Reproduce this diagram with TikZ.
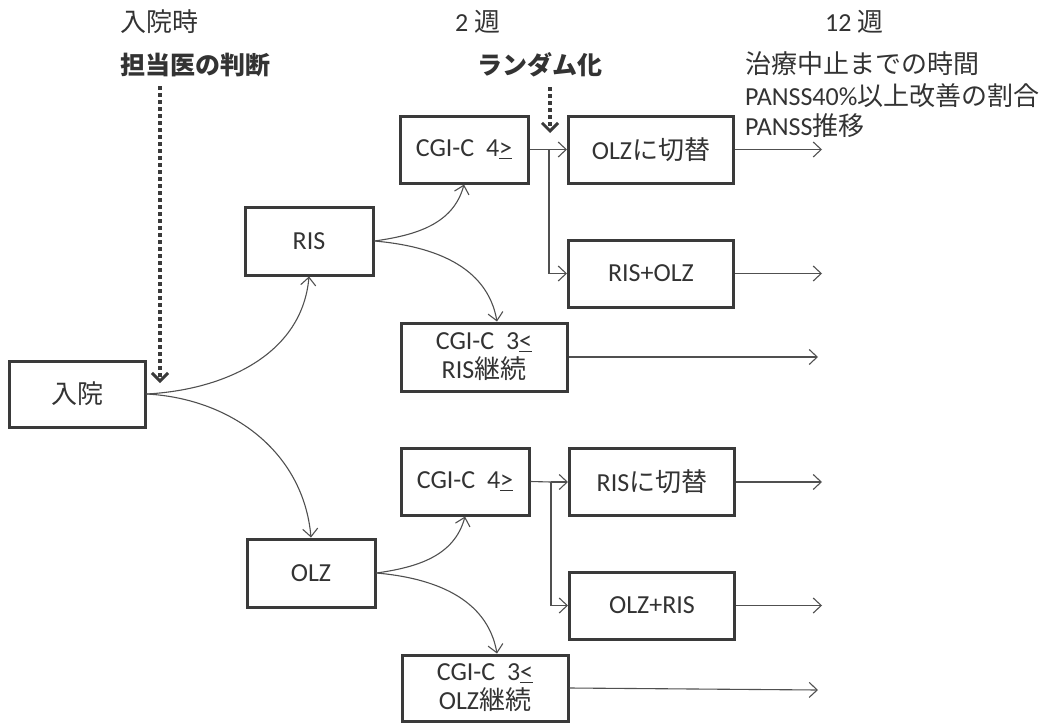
\documentclass[tikz,border=0pt]{standalone}
\usepackage{fontspec}
\setmainfont{Carlito}
\newfontfamily\jp{Noto Sans CJK JP}
\usetikzlibrary{arrows.meta}
\definecolor{ink}{HTML}{333333}
\definecolor{edge}{HTML}{3A3A3A}
\definecolor{wire}{HTML}{505050}
\tikzset{
  box/.style={draw=edge, line width=3pt, minimum width=#1, inner sep=0pt, text=ink, align=center, font=\fontsize{26}{29}\selectfont},
  box/.default=128pt,
  conn/.style={draw=wire, line width=1.1pt, -{Straight Barb[length=8pt,width=15pt,line width=1.1pt]}},
  plain/.style={draw=wire, line width=1.1pt},
  dots/.style={draw=edge, line width=4pt, dash pattern=on 4pt off 3pt, -{Straight Barb[length=8pt,width=16pt,line width=3pt]}},
  lbl/.style={anchor=west, inner sep=0pt, text=ink, font=\fontsize{26}{30}\selectfont},
  blbl/.style={lbl, font=\fontsize{25}{30}\selectfont\jp\bfseries},
}
\begin{document}
\begin{tikzpicture}[x=1pt,y=-1pt]
\useasboundingbox (0,0) rectangle (1055,723);
% header labels
\node[lbl] (t1) at (120,22) {\jp 入院時};
\node[blbl] (t2) at (120,65) {担当医の判断};
\node[lbl] (t3) at (455,22) {2 {\jp 週}};
\node[blbl] (t4) at (477,65) {ランダム化};
\node[lbl] (t5) at (825,22) {12 {\jp 週}};
\node[lbl] (t6) at (745,64) {\jp 治療中止までの時間};
\node[lbl] (t7) at (745,96) {PANSS40\%{\jp 以上改善の割合}};
\node[lbl] (t8) at (745,126) {PANSS{\jp 推移}};
% boxes
\node[box=136pt, minimum height=66pt] (nyuin) at (77,394) {\jp 入院};
\node[box, minimum height=68pt] (ris) at (309,241) {RIS};
\node[box, minimum height=68pt] (olz) at (311,573) {OLZ};
\node[box, minimum height=67pt] (c4a) at (464,149.5) {CGI-C\ \ 4\underline{>}};
\node[box=166pt, minimum height=68pt] (c3a) at (484,357) {CGI-C\ \ 3\underline{<}\\RIS{\jp 継続}};
\node[box=165pt, minimum height=67pt] (swa) at (651,149.5) {OLZ{\jp に切替}};
\node[box=165pt, minimum height=67pt] (roa) at (651,273.5) {RIS+OLZ};
\node[box, minimum height=67pt] (c4b) at (465,481.5) {CGI-C\ \ 4\underline{>}};
\node[box=166pt, minimum height=66pt] (c3b) at (485,688) {CGI-C\ \ 3\underline{<}\\OLZ{\jp 継続}};
\node[box=165pt, minimum height=67pt] (swb) at (652,482) {RIS{\jp に切替}};
\node[box=165pt, minimum height=67pt] (rob) at (652,605.5) {OLZ+RIS};
% junctions and free ends
\coordinate (j1) at (549,149.5);
\coordinate (j2) at (551,482);
\coordinate (e1) at (822,149.5);
\coordinate (e2) at (822,273.5);
\coordinate (e3) at (818,357);
\coordinate (e4) at (822,482);
\coordinate (e5) at (822,605.5);
\coordinate (e6) at (818,690);
\coordinate (d1s) at (160,86);
\coordinate (d1e) at (160,383);
\coordinate (d2s) at (550,87);
\coordinate (d2e) at (550,133);
% dotted arrows
\draw[dots] (d1s) -- (d1e);
\draw[dots] (d2s) -- (d2e);
% curves
\draw[conn] (nyuin.east) to[out=3,in=-95] (ris.south);
\draw[conn] (nyuin.east) to[out=-3,in=95] (olz.north);
\draw[conn] (ris.east) to[out=8,in=-105] (c4a.south);
\draw[conn] (ris.east) to[out=-5,in=100] ([xshift=13pt]c3a.north);
\draw[conn] (olz.east) to[out=8,in=-105] (c4b.south);
\draw[conn] (olz.east) to[out=-5,in=100] ([xshift=12pt]c3b.north);
% junction connectors
\draw[plain] (c4a.east) -- (j1);
\draw[conn] (j1) -- (swa.west);
\draw[conn] (j1) |- (roa.west);
\draw[plain] (c4b.east) -- (j2);
\draw[conn] (j2) -- (swb.west);
\draw[conn] (j2) |- (rob.west);
% outgoing arrows
\draw[conn] (swa.east) -- (e1);
\draw[conn] (roa.east) -- (e2);
\draw[conn] (c3a.east) -- (e3);
\draw[conn] (swb.east) -- (e4);
\draw[conn] (rob.east) -- (e5);
\draw[conn] (c3b.east) -- (e6);
\end{tikzpicture}
\end{document}
